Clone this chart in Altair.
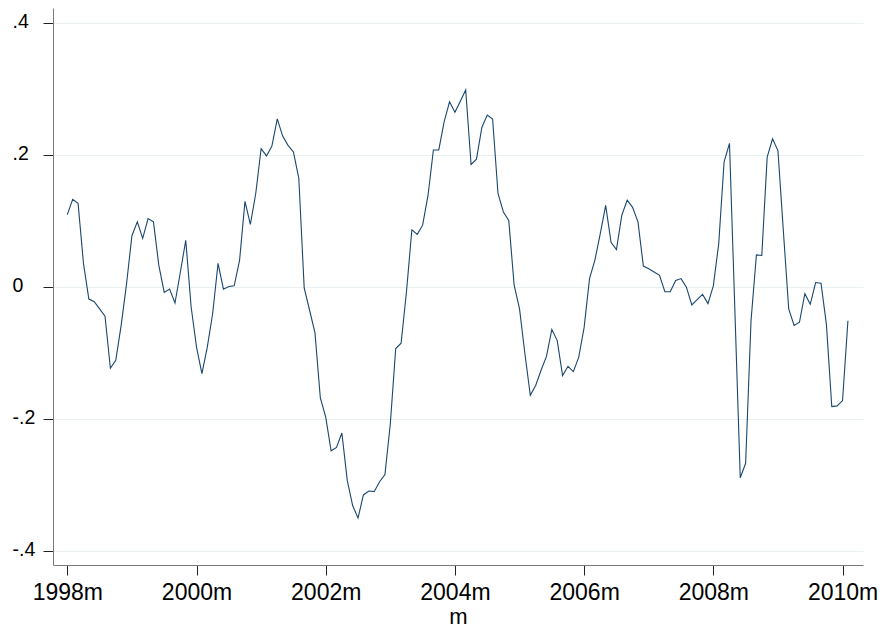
import altair as alt
import pandas as pd

# Monthly series, 1998m1 .. 2010m2
start_year = 1998
values = [
    0.110, 0.133, 0.127, 0.036, -0.018, -0.022, -0.033, -0.044, -0.123, -0.111, -0.058, 0.005,   # 1998
    0.078, 0.099, 0.074, 0.104, 0.099, 0.033, -0.008, -0.003, -0.024, 0.023, 0.071, -0.030,      # 1999
    -0.091, -0.131, -0.091, -0.040, 0.036, -0.003, 0.001, 0.002, 0.041, 0.130, 0.095, 0.142,     # 2000
    0.210, 0.199, 0.214, 0.255, 0.229, 0.215, 0.205, 0.165, -0.001, -0.035, -0.069, -0.168,      # 2001
    -0.197, -0.248, -0.243, -0.221, -0.293, -0.331, -0.350, -0.315, -0.309, -0.310, -0.295, -0.284,  # 2002
    -0.207, -0.093, -0.085, -0.007, 0.087, 0.080, 0.094, 0.139, 0.208, 0.208, 0.251, 0.281,      # 2003
    0.265, 0.282, 0.299, 0.186, 0.194, 0.242, 0.261, 0.255, 0.142, 0.114, 0.101, 0.003,          # 2004
    -0.033, -0.101, -0.164, -0.149, -0.126, -0.105, -0.064, -0.081, -0.134, -0.120, -0.128, -0.106,  # 2005
    -0.061, 0.013, 0.041, 0.081, 0.124, 0.068, 0.057, 0.109, 0.132, 0.121, 0.099, 0.032,        # 2006
    0.028, 0.023, 0.018, -0.007, -0.007, 0.010, 0.013, 0.000, -0.027, -0.019, -0.011, -0.025,    # 2007
    0.002, 0.066, 0.190, 0.218, -0.035, -0.289, -0.267, -0.051, 0.049, 0.048, 0.197, 0.225,      # 2008
    0.207, 0.086, -0.033, -0.058, -0.053, -0.010, -0.026, 0.007, 0.006, -0.056, -0.181, -0.180,  # 2009
    -0.172, -0.051,                                                                               # 2010
]

x_ticks = [0, 24, 48, 72, 96, 120, 144]
y_ticks = [-0.4, -0.2, 0.0, 0.2, 0.4]

df = pd.DataFrame({"t": list(range(len(values))), "value": values})

FONT = "Liberation Sans"

x_axis = alt.Axis(
    values=x_ticks,
    labelExpr=f"toString({start_year} + floor(datum.value / 12)) + 'm'",
    grid=False,
    tickSize=10,
    tickColor="#222222",
    domainColor="#7a7a7a",
    labelFontSize=23,
    labelColor="#000000",
    labelPadding=6,
    labelFont=FONT,
    title="m",
    titleFont=FONT,
    titleFontSize=22,
    titleFontWeight="normal",
    titleColor="#000000",
    titlePadding=2,
)

y_axis = alt.Axis(
    values=y_ticks,
    labelExpr="datum.value == 0 ? '0' : (datum.value < 0 ? '-' : '') + '.' + toString(round(abs(datum.value) * 10))",
    grid=True,
    gridColor="#e9f0f1",
    gridWidth=1,
    tickSize=10,
    tickColor="#222222",
    domainColor="#7a7a7a",
    labelFontSize=19.5,
    labelColor="#000000",
    labelFont=FONT,
    labelAlign="left",
    labelPadding=31,
    labelOffset=-2,
    title=None,
)

chart = (
    alt.Chart(df)
    .mark_line(color="#1a476f", strokeWidth=1.1, clip=True)
    .encode(
        x=alt.X("t:Q", scale=alt.Scale(domain=[-2.66, 147.8], nice=False, zero=False), axis=x_axis),
        y=alt.Y("value:Q", scale=alt.Scale(domain=[-0.4212, 0.4232], nice=False, zero=False), axis=y_axis),
    )
    .properties(
        width=810,
        height=557,
        autosize=alt.AutoSizeParams(type="none"),
        padding={"left": 53, "top": 8, "right": 19, "bottom": 65},
        background="white",
    )
    .configure_view(stroke=None)
)

chart.save("out.html", embed_options={"renderer": "svg", "actions": False})
